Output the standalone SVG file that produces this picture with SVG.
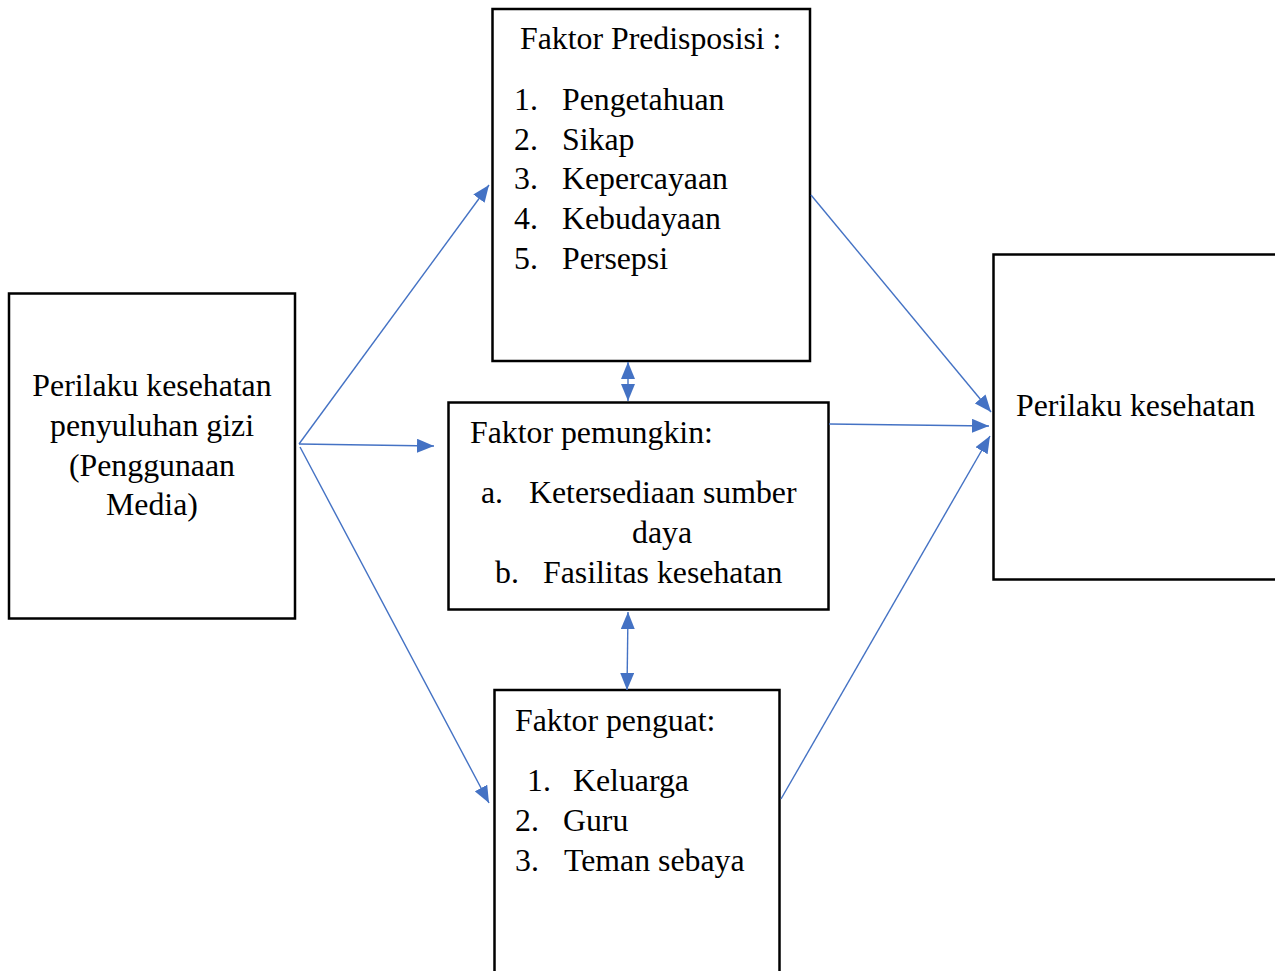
<svg xmlns="http://www.w3.org/2000/svg" width="1275" height="971" viewBox="0 0 1275 971">
<style>
.box{fill:#fff;stroke:#000;stroke-width:2.5}
.t{font-family:"Liberation Serif","Times New Roman",serif;font-size:31.8px;fill:#000}
.c{text-anchor:middle}
.ln{stroke:#4472C4;stroke-width:1.4;fill:none}
</style>
<defs>
<marker id="ah" viewBox="0 0 17 14" refX="17" refY="7" markerWidth="17" markerHeight="14" markerUnits="userSpaceOnUse" orient="auto-start-reverse">
<path d="M0,0 L17,7 L0,14 Z" fill="#4472C4"/>
</marker>
</defs>
<rect width="1275" height="971" fill="#fff"/>
<g id="node-media">
<rect class="box" x="9" y="293.5" width="286" height="325"/>
<text class="t c" x="152" y="396">Perilaku kesehatan</text>
<text class="t c" x="152" y="436">penyuluhan gizi</text>
<text class="t c" x="152" y="476">(Penggunaan</text>
<text class="t c" x="152" y="515">Media)</text>
</g>
<g id="node-predisposisi">
<rect class="box" x="492.5" y="9" width="317.5" height="352"/>
<text class="t" x="520" y="49">Faktor Predisposisi :</text>
<text class="t" x="514" y="110">1.</text><text class="t" x="562" y="110">Pengetahuan</text>
<text class="t" x="514" y="150">2.</text><text class="t" x="562" y="150">Sikap</text>
<text class="t" x="514" y="189">3.</text><text class="t" x="562" y="189">Kepercayaan</text>
<text class="t" x="514" y="229">4.</text><text class="t" x="562" y="229">Kebudayaan</text>
<text class="t" x="514" y="269">5.</text><text class="t" x="562" y="269">Persepsi</text>
</g>
<g id="node-pemungkin">
<rect class="box" x="448.5" y="402.5" width="380" height="207"/>
<text class="t" x="470" y="443">Faktor pemungkin:</text>
<text class="t" x="481" y="503">a.</text><text class="t" x="529" y="503">Ketersediaan sumber</text>
<text class="t" x="632" y="543">daya</text>
<text class="t" x="495" y="583">b.</text><text class="t" x="543" y="583">Fasilitas kesehatan</text>
</g>
<g id="node-penguat">
<rect class="box" x="494.5" y="690" width="285" height="290"/>
<text class="t" x="515" y="731">Faktor penguat:</text>
<text class="t" x="527" y="791">1.</text><text class="t" x="573" y="791">Keluarga</text>
<text class="t" x="515" y="831">2.</text><text class="t" x="563" y="831">Guru</text>
<text class="t" x="515" y="871">3.</text><text class="t" x="564" y="871">Teman sebaya</text>
</g>
<g id="node-perilaku">
<rect class="box" x="993.5" y="254.5" width="290" height="325"/>
<text class="t" x="1016" y="416">Perilaku kesehatan</text>
</g>
<g id="connectors">
<line class="ln" x1="299" y1="444" x2="489" y2="185" marker-end="url(#ah)"/>
<line class="ln" x1="299" y1="444" x2="434" y2="446" marker-end="url(#ah)"/>
<line class="ln" x1="300" y1="447" x2="489" y2="803" marker-end="url(#ah)"/>
<line class="ln" x1="811" y1="195" x2="991" y2="412" marker-end="url(#ah)"/>
<line class="ln" x1="829" y1="424" x2="989" y2="426" marker-end="url(#ah)"/>
<line class="ln" x1="781" y1="799" x2="990" y2="436" marker-end="url(#ah)"/>
<line class="ln" x1="628" y1="362" x2="628" y2="401" marker-start="url(#ah)" marker-end="url(#ah)"/>
<line class="ln" x1="628" y1="612" x2="627" y2="690" marker-start="url(#ah)" marker-end="url(#ah)"/>
</g>
</svg>
